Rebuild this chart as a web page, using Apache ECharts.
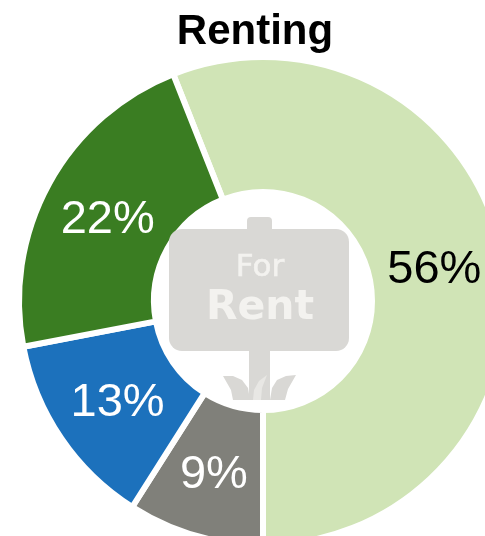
<!DOCTYPE html>
<html><head><meta charset="utf-8">
<style>html,body{margin:0;padding:0;background:#fff}#c{width:485px;height:536px}</style>
<script src="https://cdn.jsdelivr.net/npm/echarts@6/dist/echarts.min.js"></script>
</head><body><div id="c"></div>
<script>
var titleText = 'Renting';
var categories = ['Category A', 'Category B', 'Category C', 'Category D'];
var values = [56, 9, 13, 22];
var sliceColors = ['#D0E4B6', '#80807A', '#1C71BC', '#3A7D22'];
var labelColors = ['#000000', '#ffffff', '#ffffff', '#ffffff'];
var labelNudge = [[-5, 3], [1, 2], [3, 1], [2, 6]];
var signColor = '#D9D8D5', signText = '#F3F2EF';
var chart = echarts.init(document.getElementById('c'), null, {renderer: 'canvas'});
chart.setOption({
  animation: false,
  title: {text: titleText, left: 250, top: 6, textAlign: 'center',
    textStyle: {fontFamily: 'Liberation Sans', fontWeight: 'bold', fontSize: 42, color: '#000'}},
  series: [{
    type: 'pie', center: [263, 301], radius: [109, 244], startAngle: 111.6, clockwise: true,
    silent: true,
    itemStyle: {borderColor: '#fff', borderWidth: 6},
    label: {position: 'inside', formatter: '{d}%', fontFamily: 'Liberation Sans', fontSize: 47},
    labelLine: {show: false},
    labelLayout: function (p) { return {dx: labelNudge[p.dataIndex][0], dy: labelNudge[p.dataIndex][1]}; },
    data: values.map(function (v, i) {
      return {value: v, name: categories[i], itemStyle: {color: sliceColors[i]}, label: {color: labelColors[i]}};
    })
  }],
  graphic: [
    {type: 'group', silent: true, children: [
      {type: 'rect', z: 50, shape: {x: 247, y: 217, width: 25, height: 20, r: 4}, style: {fill: signColor}},
      {type: 'rect', z: 50, shape: {x: 169, y: 229, width: 180, height: 122, r: 13}, style: {fill: signColor}},
      {type: 'rect', z: 50, shape: {x: 249, y: 345, width: 21, height: 55}, style: {fill: signColor}},
      {type: 'polygon', z: 50, shape: {points: [[223,376],[233,376],[242,380],[248,388],[250,400],[233,400],[231,390]]}, style: {fill: signColor}},
      {type: 'polygon', z: 50, shape: {points: [[296,375],[286,376],[277,380],[272,388],[270,400],[285,400],[288,389]]}, style: {fill: signColor}},
      {type: 'polygon', z: 51, shape: {points: [[267,375],[259,381],[254,390],[253,400],[261,400],[262,388]]}, style: {fill: '#E8E7E4'}},
      {type: 'text', z: 52, style: {x: 260, y: 268, text: 'For', fill: signText, stroke: signText, lineWidth: 0.6, align: 'center', verticalAlign: 'middle', font: '31px "DejaVu Sans"'}},
      {type: 'text', z: 52, style: {x: 260, y: 308, text: 'Rent', fill: signText, align: 'center', verticalAlign: 'middle', font: 'bold 41px "DejaVu Sans"'}}
    ]}
  ]
});
</script></body></html>
